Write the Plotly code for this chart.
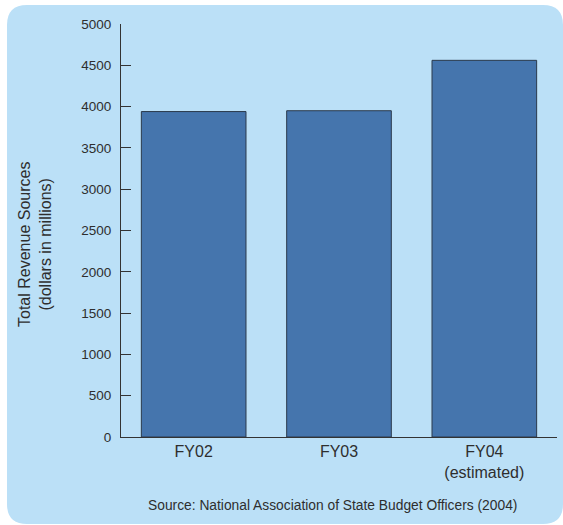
import plotly.graph_objects as go

# Revenue by fiscal year (dollars in millions)
categories = ["FY02", "FY03", "FY04<br>(estimated)"]
revenue = [3940, 3950, 4560]
y_ticks = [0, 500, 1000, 1500, 2000, 2500, 3000, 3500, 4000, 4500, 5000]

W, H = 563, 525
L, R, T, B = 121, 6, 24, 88
pw, ph = W - L - R, H - T - B
FONT = "Liberation Sans, Arial"
TEXT = "#2E2E2E"


def px_to_paper(x, y):
    return (x - L) / pw, (H - B - y) / ph


def rounded_rect(x0, y0, x1, y1, r):
    # rounded rectangle path, given in pixels, converted to paper coordinates
    def P(x, y):
        a, b = px_to_paper(x, y)
        return f"{a:.5f},{b:.5f}"
    d = f"M {P(x0 + r, y0)} L {P(x1 - r, y0)} Q {P(x1, y0)} {P(x1, y0 + r)} "
    d += f"L {P(x1, y1 - r)} Q {P(x1, y1)} {P(x1 - r, y1)} "
    d += f"L {P(x0 + r, y1)} Q {P(x0, y1)} {P(x0, y1 - r)} "
    d += f"L {P(x0, y0 + r)} Q {P(x0, y0)} {P(x0 + r, y0)} Z"
    return d


fig = go.Figure(
    go.Bar(
        x=categories,
        y=revenue,
        marker=dict(color="#4575AD", line=dict(color="#2B3A4C", width=1)),
        width=0.72,
    )
)

fig.add_shape(
    type="path",
    xref="paper",
    yref="paper",
    path=rounded_rect(7, 5, 563, 524, 20),
    fillcolor="#BBE0F7",
    line=dict(width=0),
    layer="below",
)

fig.add_annotation(
    text="Total Revenue Sources<br>(dollars in millions)",
    xref="paper", yref="paper",
    x=px_to_paper(35, 0)[0], y=px_to_paper(0, 245)[1],
    xanchor="center", yanchor="middle",
    showarrow=False, textangle=-90,
    font=dict(family=FONT, size=16, color=TEXT),
)

fig.add_annotation(
    text="Source: National Association of State Budget Officers (2004)",
    xref="paper", yref="paper",
    x=px_to_paper(332, 0)[0], y=px_to_paper(0, 505)[1],
    xanchor="center", yanchor="middle",
    showarrow=False,
    font=dict(family=FONT, size=13.8, color=TEXT),
)

fig.update_layout(
    width=W,
    height=H,
    margin=dict(l=L, r=R, t=T, b=B, pad=0),
    paper_bgcolor="white",
    plot_bgcolor="rgba(0,0,0,0)",
    showlegend=False,
    font=dict(family=FONT, color=TEXT),
    xaxis=dict(
        range=[-0.5, 2.5],
        showline=True, linecolor="#333333", linewidth=1,
        ticks="", showgrid=False, zeroline=False,
        tickfont=dict(size=16),
    ),
    yaxis=dict(
        range=[0, 5000],
        tickvals=y_ticks,
        showline=True, linecolor="#333333", linewidth=1,
        ticks="inside", ticklen=10, tickcolor="#333333",
        showgrid=False, zeroline=False,
        tickfont=dict(size=13.5),
        ticklabelstandoff=6,
    ),
)

fig.write_html("out.html")
